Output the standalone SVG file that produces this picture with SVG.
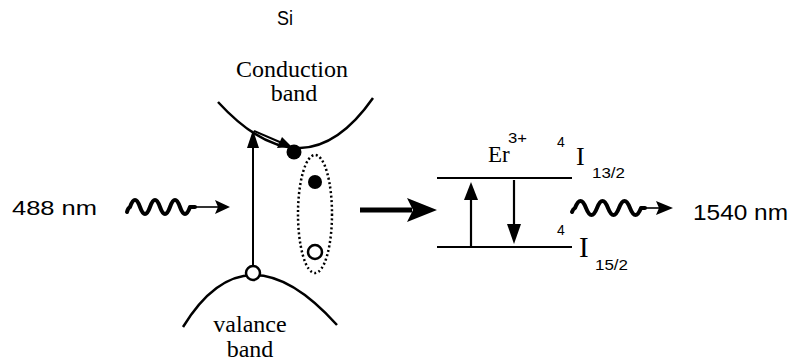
<svg xmlns="http://www.w3.org/2000/svg" width="792" height="362" viewBox="0 0 792 362">
<defs>
<style>
.serif{font-family:"Liberation Serif","Times New Roman",serif;fill:#000}
.sans{font-family:"Liberation Sans",Arial,sans-serif;fill:#000}
.ln{stroke:#000;fill:none}
.wave{stroke:#000;fill:none;stroke-width:4;stroke-linecap:round;stroke-linejoin:round}
</style>
</defs>
<rect width="792" height="362" fill="#fff"/>
<g id="si-label"><text class="sans" x="277" y="25" font-size="20" textLength="16" lengthAdjust="spacingAndGlyphs">Si</text></g>
<g id="conduction-band">
<path class="ln" stroke-width="2.5" d="M218,102 Q304.5,196 373,98"/>
<text class="serif" x="292" y="77" font-size="24" text-anchor="middle">Conduction</text>
<text class="serif" x="294" y="101" font-size="24" text-anchor="middle">band</text>
</g>
<g id="valence-band">
<path class="ln" stroke-width="2.5" d="M183,327 Q246,224 337,325"/>
<text class="serif" x="250" y="332" font-size="24" text-anchor="middle">valance</text>
<text class="serif" x="250" y="357" font-size="24" text-anchor="middle">band</text>
</g>
<g id="exciton">
<ellipse cx="315" cy="214" rx="17" ry="59" fill="none" stroke="#000" stroke-width="2.5" stroke-dasharray="2 2.5"/>
<circle cx="315" cy="182" r="7" fill="#000"/>
<circle cx="315" cy="252" r="7" fill="#fff" stroke="#000" stroke-width="2.5"/>
</g>
<g id="electron"><circle cx="294" cy="152" r="7.5" fill="#000"/></g>
<g id="hole"><circle cx="253" cy="273" r="7" fill="#fff" stroke="#000" stroke-width="2.5"/></g>
<g id="er-levels">
<line class="ln" x1="437" y1="178" x2="572" y2="178" stroke-width="2"/>
<line class="ln" x1="437" y1="247" x2="572" y2="247" stroke-width="2"/>
<text class="serif" x="488" y="162" font-size="23">Er</text>
<text class="sans" x="508" y="143" font-size="15" textLength="19" lengthAdjust="spacingAndGlyphs">3+</text>
<text class="sans" x="557" y="147" font-size="14">4</text>
<text class="serif" x="576" y="165" font-size="26">I</text>
<text class="sans" x="592" y="178" font-size="14" textLength="33" lengthAdjust="spacingAndGlyphs">13/2</text>
<text class="sans" x="557" y="235" font-size="14">4</text>
<text class="serif" x="579" y="257" font-size="29">I</text>
<text class="sans" x="595" y="270" font-size="14" textLength="33" lengthAdjust="spacingAndGlyphs">15/2</text>
</g>
<g id="labels">
<text class="sans" x="12" y="215" font-size="21" textLength="85" lengthAdjust="spacingAndGlyphs">488 nm</text>
<text class="sans" x="693" y="220" font-size="22" textLength="95" lengthAdjust="spacingAndGlyphs">1540 nm</text>
</g>
<g id="connectors">
<!-- vertical excitation -->
<line class="ln" x1="253" y1="266" x2="253" y2="145" stroke-width="2"/>
<polygon points="253,130 247,148 259,148" fill="#000"/>
<!-- relaxation along band -->
<line class="ln" x1="254" y1="131" x2="282" y2="143" stroke-width="2"/>
<polygon points="292,147 277,148 282,137" fill="#000"/>
<!-- big transfer arrow -->
<line class="ln" x1="360" y1="210" x2="412" y2="210" stroke-width="5"/>
<polygon points="437,210 407,198 413,210 407,222" fill="#000"/>
<!-- Er up/down -->
<line class="ln" x1="471" y1="247" x2="471" y2="196" stroke-width="2.2"/>
<polygon points="471,182 464,200 478,200" fill="#000"/>
<line class="ln" x1="514" y1="180" x2="514" y2="228" stroke-width="2.2"/>
<polygon points="514,244 507,224 521,224" fill="#000"/>
<!-- photon in -->
<path class="wave" d="M127,212 Q128,208 130,207 Q135,193 140,207 Q145,221 150,207 Q155,193 160,207 Q165,221 170,207 Q175,193 180,207 Q185,221 190,207 L195,207"/>
<line class="ln" x1="195" y1="207" x2="218" y2="207" stroke-width="1.6"/>
<polygon points="230,207 215,200 218,207 215,214" fill="#000"/>
<!-- photon out -->
<path class="wave" d="M572,212 Q573,209 575,208 Q580.5,194 586,208 Q591.5,222 597,208 Q602.5,194 608,208 Q613.5,222 619,208 Q624.5,194 630,208 Q635.5,222 641,208 L645,208"/>
<line class="ln" x1="645" y1="208" x2="659" y2="208" stroke-width="1.6"/>
<polygon points="673,208 656,201 659,208 656,215" fill="#000"/>
</g>
</svg>
